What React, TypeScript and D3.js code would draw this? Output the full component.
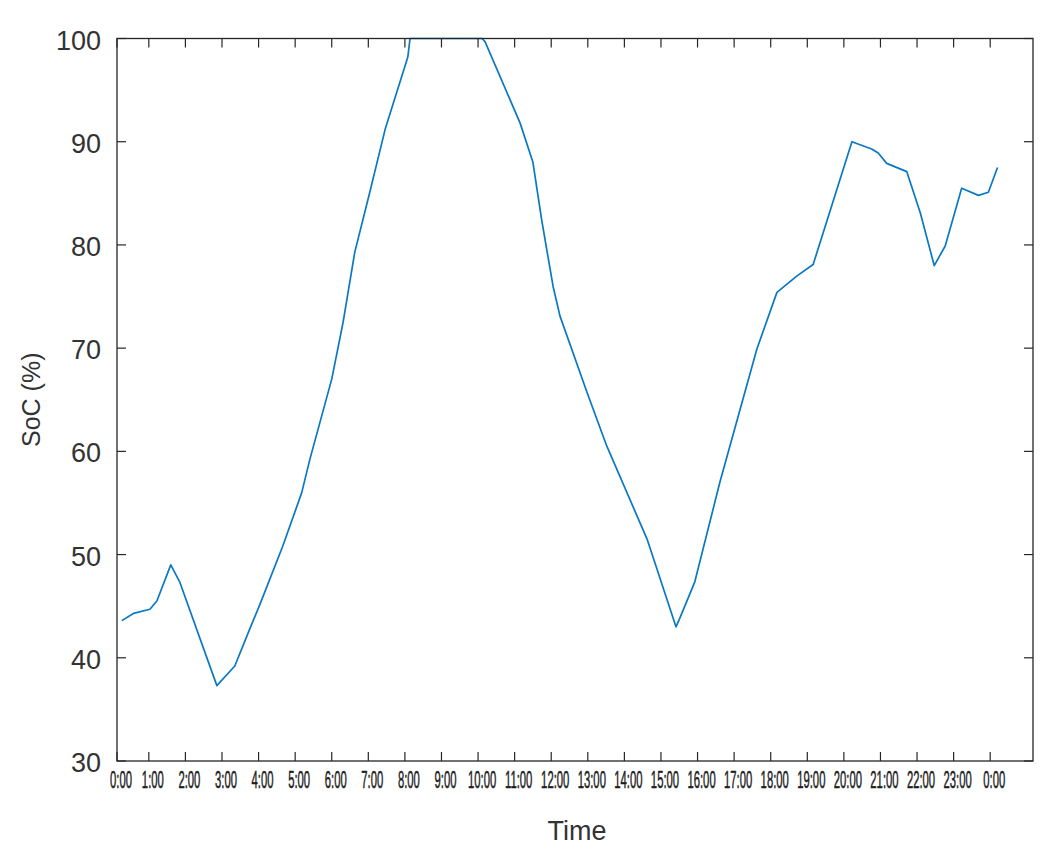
import React from "react";
import * as d3 from "d3";

// Time of day in hours and battery state of charge (%)
const hours = [
  0.26, 0.58, 1.03, 1.22, 1.6, 1.85, 2.86, 3.35, 3.76, 4.04, 4.66, 5.18, 5.4, 6.0, 6.31, 6.63,
  7.04, 7.46, 8.08, 8.14, 10.11, 10.19, 11.15, 11.5, 11.74, 12.05, 12.24, 12.98, 13.52, 14.62,
  15.16, 15.41, 15.51, 15.92, 16.61, 17.62, 18.17, 18.72, 19.16, 20.22, 20.76, 20.94, 21.17,
  21.72, 22.09, 22.47, 22.77, 23.22, 23.68, 23.95, 24.2,
];
const soc = [
  43.6, 44.3, 44.7, 45.5, 49.0, 47.3, 37.3, 39.2, 42.8, 45.2, 50.8, 56.0, 59.2, 67.0, 72.5, 79.3,
  85.1, 91.2, 98.2, 100, 100, 99.7, 91.8, 88.0, 82.4, 76.0, 73.1, 65.7, 60.5, 51.5,
  45.7, 43.0, 43.8, 47.3, 57.0, 69.9, 75.4, 77.0, 78.1, 90.0, 89.3, 88.9, 87.9,
  87.1, 83.1, 78.0, 79.9, 85.5, 84.8, 85.1, 87.5,
];
const xTickHours = d3.range(0, 25);
const xTickLabels = [
  "0:00", "1:00", "2:00", "3:00", "4:00", "5:00", "6:00", "7:00", "8:00", "9:00", "10:00",
  "11:00", "12:00", "13:00", "14:00", "15:00", "16:00", "17:00", "18:00", "19:00", "20:00",
  "21:00", "22:00", "23:00", "0:00",
];
const yTicks = [30, 40, 50, 60, 70, 80, 90, 100];

const W = 1049;
const H = 860;
const left = 117;
const right = 1033;
const top = 38.5;
const bottom = 761;
const font = "'Liberation Sans', Arial, Helvetica, sans-serif";
const axisColor = "#262626";
const textColor = "#333333";

export default function App() {
  const x = d3.scaleLinear().domain([0.13, 25.17]).range([left, right]);
  const y = d3.scaleLinear().domain([30, 100]).range([bottom, top]);
  const line = d3
    .line<number>()
    .x((_, i) => x(hours[i]))
    .y((d) => y(d));
  const tickLen = 9;
  const xPos = (h: number) => x(Math.max(h, 0.13));

  return (
    <svg
      width={W}
      height={H}
      style={{ position: "absolute", left: 0, top: 0, background: "#fff" }}
      fontFamily={font}
    >
      <rect x={0} y={0} width={W} height={H} fill="#fff" />
      {/* data line */}
      <path d={line(soc) || ""} fill="none" stroke="#0A78C2" strokeWidth={1.7} strokeLinejoin="round" />
      {/* box */}
      <rect
        x={left}
        y={top}
        width={right - left}
        height={bottom - top}
        fill="none"
        stroke={axisColor}
        strokeWidth={1.3}
      />
      {/* x ticks */}
      {xTickHours.map((h, i) => {
        const px = xPos(h);
        return (
          <g key={"xt" + i}>
            <line x1={px} x2={px} y1={bottom} y2={bottom - tickLen} stroke={axisColor} strokeWidth={1.2} />
            <line x1={px} x2={px} y1={top} y2={top + tickLen} stroke={axisColor} strokeWidth={1.2} />
            <text
              transform={`translate(${px + 4},788) scale(0.49,1)`}
              textAnchor="middle"
              fontSize={23}
              fill="#1e1e1e"
              stroke="#1e1e1e"
              strokeWidth={0.5}
            >
              {xTickLabels[i]}
            </text>
          </g>
        );
      })}
      {/* y ticks */}
      {yTicks.map((v) => {
        const py = y(v);
        return (
          <g key={"yt" + v}>
            <line x1={left} x2={left + tickLen} y1={py} y2={py} stroke={axisColor} strokeWidth={1.2} />
            <line x1={right} x2={right - tickLen} y1={py} y2={py} stroke={axisColor} strokeWidth={1.2} />
            <text x={101} y={py + 11} textAnchor="end" fontSize={27} fill={textColor}>
              {v}
            </text>
          </g>
        );
      })}
      {/* axis titles */}
      <text x={577} y={840} textAnchor="middle" fontSize={27} fill={textColor}>
        Time
      </text>
      <text
        transform={`translate(40,${(top + bottom) / 2}) rotate(-90)`}
        textAnchor="middle"
        fontSize={25}
        fill={textColor}
      >
        SoC (%)
      </text>
    </svg>
  );
}
